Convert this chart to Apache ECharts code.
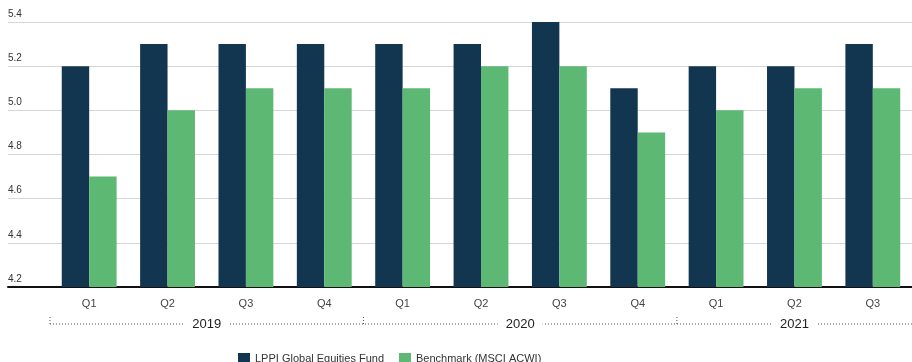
<!DOCTYPE html>
<html>
<head>
<meta charset="utf-8">
<script src="https://cdn.jsdelivr.net/npm/echarts@6/dist/echarts.min.js"></script>
<style>
    html, body {margin: 0; padding: 0; background: #fff;}
    #chart {width: 912px; height: 362px;}
</style>
</head>
<body>
<div id="chart"></div>
<script>
// данные
let quarters = ['Q1', 'Q2', 'Q3', 'Q4', 'Q1', 'Q2', 'Q3', 'Q4', 'Q1', 'Q2', 'Q3']
let years = ['2019', '2020', '2021']
let yearSizes = [4, 4, 3]
let fundValues = [5.2, 5.3, 5.3, 5.3, 5.3, 5.3, 5.4, 5.1, 5.2, 5.2, 5.3]
let benchValues = [4.7, 5.0, 5.1, 5.1, 5.1, 5.2, 5.2, 4.9, 5.0, 5.1, 5.1]

let fontFamily = '"Liberation Sans", Arial, sans-serif'
let yMin = 4.2
let yMax = 5.4

let chartInst = echarts.init(document.getElementById('chart'), null, {renderer: 'canvas'})

chartInst.setOption({
    animation: false,
    textStyle: {fontFamily: fontFamily},
    grid: [
        // сетка с линиями и подписями оси Y на всю ширину
        {left: 8, right: 0, top: 22, bottom: 75},
        // сетка со столбцами
        {left: 50, right: -6, top: 22, bottom: 75},
    ],
    legend: {
        left: 233,
        top: 348,
        itemWidth: 12,
        itemHeight: 11,
        itemGap: 15,
        icon: 'rect',
        textStyle: {fontSize: 11, color: '#333', fontFamily: fontFamily},
        data: ['LPPI Global Equities Fund', 'Benchmark (MSCI ACWI)'],
    },
    xAxis: [
        {
            gridIndex: 0,
            type: 'value',
            min: 0,
            max: 1,
            axisLine: {show: true, onZero: false, lineStyle: {color: '#111', width: 2}},
            axisTick: {show: false},
            axisLabel: {show: false},
            splitLine: {show: false},
        },
        {
            gridIndex: 1,
            type: 'category',
            data: quarters,
            axisLine: {show: false},
            axisTick: {show: false},
            axisLabel: {fontSize: 11, color: '#444', margin: 11, fontFamily: fontFamily},
        },
    ],
    yAxis: [
        {
            gridIndex: 0,
            type: 'value',
            min: yMin,
            max: yMax,
            interval: 0.2,
            axisLine: {show: false},
            axisTick: {show: false},
            axisLabel: {
                inside: true,
                align: 'left',
                verticalAlign: 'bottom',
                margin: 0,
                padding: [0, 0, 3, 0],
                fontSize: 10,
                color: '#333',
                formatter: (v) => v.toFixed(1),
            },
            splitLine: {show: true, lineStyle: {color: '#d6d6d6', width: 1}},
        },
        {
            gridIndex: 1,
            type: 'value',
            min: yMin,
            max: yMax,
            show: false,
        },
    ],
    series: [
        {
            name: 'LPPI Global Equities Fund',
            type: 'bar',
            xAxisIndex: 1,
            yAxisIndex: 1,
            data: fundValues,
            barGap: 0,
            barCategoryGap: '30%',
            itemStyle: {color: '#133650'},
        },
        {
            name: 'Benchmark (MSCI ACWI)',
            type: 'bar',
            xAxisIndex: 1,
            yAxisIndex: 1,
            data: benchValues,
            barGap: 0,
            barCategoryGap: '30%',
            itemStyle: {color: '#5db873'},
        },
    ],
})

/**
 * Группировка кварталов по годам: пунктирные скобки и подписи лет.
 * Позиции берутся из шкалы категорий.
 */
function buildYearGroups() {
    let c0 = chartInst.convertToPixel({xAxisIndex: 1}, 0)
    let c1 = chartInst.convertToPixel({xAxisIndex: 1}, 1)
    let band = c1 - c0
    let lineY = 324
    let rightEdge = 912
    let elements = []
    let dash = [1, 2]
    let start = 0
    let firstX = c0 - band / 2
    elements.push({
        type: 'line',
        shape: {x1: firstX, y1: lineY, x2: rightEdge, y2: lineY},
        style: {stroke: '#555', lineWidth: 1, lineDash: dash},
        z: 1,
    })
    years.forEach((year, i) => {
        let size = yearSizes[i]
        let x0 = chartInst.convertToPixel({xAxisIndex: 1}, start) - band / 2
        let xMid = (chartInst.convertToPixel({xAxisIndex: 1}, start) +
            chartInst.convertToPixel({xAxisIndex: 1}, start + size - 1)) / 2
        elements.push({
            type: 'line',
            shape: {x1: x0, y1: lineY - 7, x2: x0, y2: lineY},
            style: {stroke: '#555', lineWidth: 1, lineDash: dash},
            z: 1,
        })
        elements.push({
            type: 'text',
            x: xMid,
            y: lineY,
            z: 2,
            style: {
                text: year,
                fontSize: 13,
                fontFamily: fontFamily,
                fill: '#222',
                align: 'center',
                verticalAlign: 'middle',
                backgroundColor: '#fff',
                padding: [0, 8],
            },
        })
        start += size
    })
    chartInst.setOption({graphic: elements})
}

buildYearGroups()
</script>
</body>
</html>
